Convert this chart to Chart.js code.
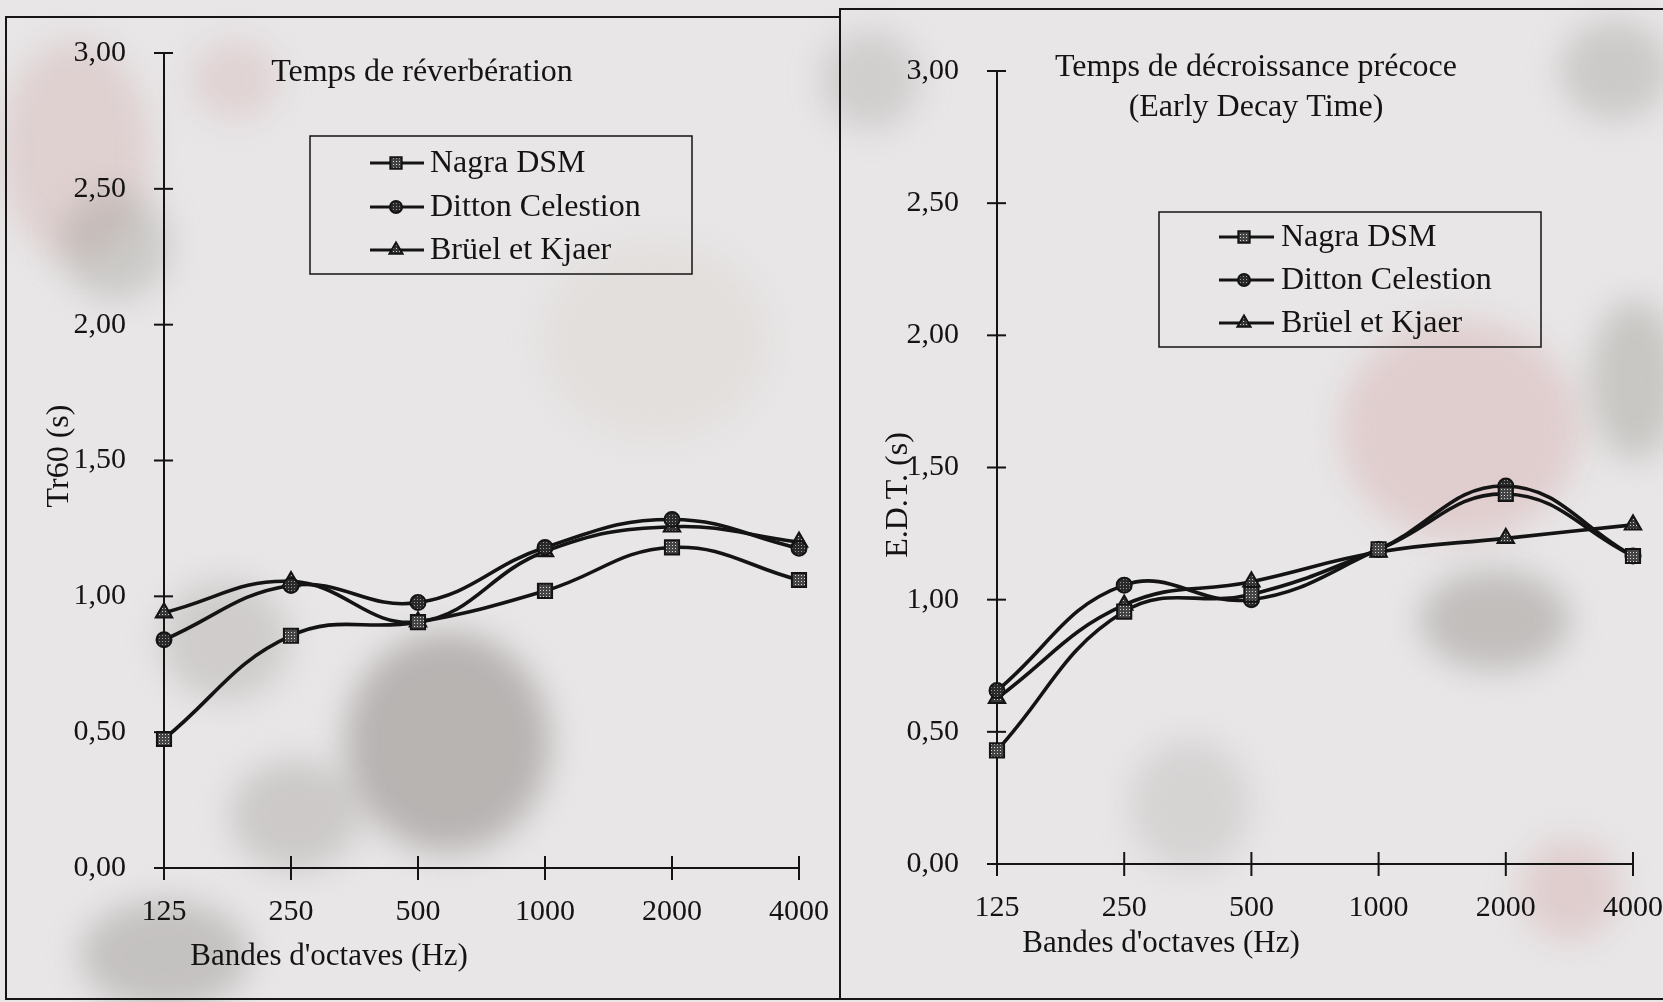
<!DOCTYPE html>
<html>
<head>
<meta charset="utf-8">
<script src="https://cdn.jsdelivr.net/npm/chart.js@4"></script>
<style>
  html, body { margin: 0; padding: 0; }
  body { width: 1663px; height: 1002px; overflow: hidden; position: relative; background: #e8e6e7; }
  .stain { position: absolute; border-radius: 50%; filter: blur(16px); }
  .box { position: absolute; border: 2px solid #161616; box-sizing: border-box; }
  canvas { position: absolute; }
</style>
</head>
<body>
<div class="stain" style="left:345px;top:632px;width:205px;height:220px;background:rgba(135,130,126,.5)"></div>
<div class="stain" style="left:160px;top:580px;width:130px;height:120px;background:rgba(150,145,140,.3)"></div>
<div class="stain" style="left:0px;top:40px;width:150px;height:220px;background:rgba(205,170,165,.35)"></div>
<div class="stain" style="left:190px;top:40px;width:90px;height:80px;background:rgba(205,155,155,.25)"></div>
<div class="stain" style="left:60px;top:190px;width:110px;height:110px;background:rgba(140,140,130,.3)"></div>
<div class="stain" style="left:230px;top:760px;width:130px;height:110px;background:rgba(140,135,130,.3)"></div>
<div class="stain" style="left:80px;top:900px;width:170px;height:110px;background:rgba(130,125,120,.35)"></div>
<div class="stain" style="left:540px;top:240px;width:230px;height:200px;background:rgba(205,195,175,.18)"></div>
<div class="stain" style="left:1340px;top:320px;width:240px;height:220px;background:rgba(205,145,145,.28)"></div>
<div class="stain" style="left:1420px;top:570px;width:150px;height:100px;background:rgba(135,130,125,.4)"></div>
<div class="stain" style="left:1590px;top:300px;width:90px;height:160px;background:rgba(140,140,130,.35)"></div>
<div class="stain" style="left:1520px;top:840px;width:100px;height:100px;background:rgba(205,150,150,.3)"></div>
<div class="stain" style="left:820px;top:30px;width:100px;height:100px;background:rgba(140,140,130,.25)"></div>
<div class="stain" style="left:1560px;top:20px;width:110px;height:100px;background:rgba(140,140,130,.3)"></div>
<div class="stain" style="left:1130px;top:740px;width:120px;height:130px;background:rgba(150,145,140,.22)"></div>

<div class="box" style="left:5px;top:16px;width:836px;height:984px"></div>
<div class="box" style="left:839px;top:8px;width:840px;height:992px"></div>

<canvas id="tr60" width="835" height="983" style="left:5px;top:16px"></canvas>
<canvas id="edt" width="823" height="992" style="left:840px;top:8px"></canvas>

<script>
const bands = ["125", "250", "500", "1000", "2000", "4000"];
const seriesNames = ["Nagra DSM", "Ditton Celestion", "Brüel et Kjaer"];

// Tr60 (s)
const tr60Nagra = [0.475, 0.855, 0.905, 1.02, 1.18, 1.06];
const tr60Ditton = [0.84, 1.04, 0.977, 1.18, 1.283, 1.177];
const tr60Bruel = [0.94, 1.055, 0.906, 1.165, 1.256, 1.20];

// E.D.T. (s)
const edtNagra = [0.43, 0.955, 1.02, 1.19, 1.40, 1.165];
const edtDitton = [0.656, 1.055, 1.00, 1.19, 1.43, 1.165];
const edtBruel = [0.627, 0.98, 1.068, 1.18, 1.232, 1.283];

const yTickValues = [0, 0.5, 1, 1.5, 2, 2.5, 3];

const ink = "#141414";
const serif = "'Liberation Serif', 'DejaVu Serif', serif";

function makePattern(base, dot) {
    const c = document.createElement("canvas");
    c.width = 3;
    c.height = 3;
    const g = c.getContext("2d");
    g.fillStyle = base;
    g.fillRect(0, 0, 3, 3);
    g.fillStyle = dot;
    g.fillRect(1, 1, 1, 1);
    return g.createPattern(c, "repeat");
}

const markerStyles = [
    { pointStyle: "rect", radius: 10, fill: makePattern("#454545", "#d8d8d8") },
    { pointStyle: "circle", radius: 7.5, fill: makePattern("#2a2a2a", "#9a9a9a") },
    { pointStyle: "triangle", radius: 9.5, fill: makePattern("#363636", "#cfcfcf") }
];

// crossing tick marks, custom texts and the boxed legend
const decorPlugin = {
    id: "decor",
    afterDraw(chart) {
        const ctx = chart.ctx;
        const d = chart.options.plugins.decor;
        const xs = chart.scales.x, ys = chart.scales.y;
        ctx.save();
        ctx.strokeStyle = ink;
        ctx.lineWidth = 2;
        ys.ticks.forEach((t, i) => {
            const py = ys.getPixelForTick(i);
            ctx.beginPath();
            ctx.moveTo(xs.left - 10, py);
            ctx.lineTo(xs.left + 9, py);
            ctx.stroke();
        });
        xs.ticks.forEach((t, i) => {
            const px = xs.getPixelForTick(i);
            ctx.beginPath();
            ctx.moveTo(px, ys.bottom - 12);
            ctx.lineTo(px, ys.bottom + 12);
            ctx.stroke();
        });

        ctx.fillStyle = ink;
        ctx.textAlign = "center";
        ctx.textBaseline = "middle";
        ctx.font = "32px " + serif;
        d.title.forEach(([txt, x, y]) => ctx.fillText(txt, x, y));
        ctx.font = "31px " + serif;
        ctx.fillText(d.xTitle[0], d.xTitle[1], d.xTitle[2]);
        ctx.save();
        ctx.translate(d.yTitle[1], d.yTitle[2]);
        ctx.rotate(-Math.PI / 2);
        ctx.font = "32px " + serif;
        ctx.fillText(d.yTitle[0], 0, 0);
        ctx.restore();

        const lg = d.legend;
        ctx.lineWidth = 1.5;
        ctx.strokeRect(lg.box[0], lg.box[1], lg.box[2] - lg.box[0], lg.box[3] - lg.box[1]);
        ctx.textAlign = "left";
        ctx.font = "32px " + serif;
        chart.data.datasets.forEach((ds, i) => {
            const y = lg.rows[i];
            ctx.strokeStyle = ink;
            ctx.lineWidth = 3;
            ctx.beginPath();
            ctx.moveTo(lg.lineX[0], y);
            ctx.lineTo(lg.lineX[1], y);
            ctx.stroke();
            ctx.fillStyle = ds.pointBackgroundColor;
            ctx.lineWidth = 2;
            Chart.helpers.drawPoint(ctx, {
                pointStyle: ds.pointStyle,
                radius: ds.pointRadius * 0.8,
                rotation: 0,
                borderWidth: 2
            }, lg.markX, y);
            ctx.fillStyle = ink;
            ctx.fillText(ds.label, lg.textX, y + 1);
        });
        ctx.restore();
    }
};

function makeDatasets(values) {
    return values.map((vals, i) => ({
        label: seriesNames[i],
        data: vals,
        borderColor: ink,
        borderWidth: 3.6,
        tension: 0.42,
        fill: false,
        clip: false,
        pointStyle: markerStyles[i].pointStyle,
        pointRadius: markerStyles[i].radius,
        pointBackgroundColor: markerStyles[i].fill,
        pointBorderColor: ink,
        pointBorderWidth: 2
    }));
}

function buildChart(id, values, frame, decor) {
    return new Chart(document.getElementById(id).getContext("2d"), {
        type: "line",
        data: { labels: bands, datasets: makeDatasets(values) },
        options: {
            responsive: false,
            animation: false,
            layout: { padding: { top: frame.top, right: frame.right, left: 0, bottom: 0 } },
            plugins: {
                legend: { display: false },
                tooltip: { enabled: false },
                decor: decor
            },
            scales: {
                x: {
                    type: "category",
                    offset: false,
                    grid: { display: false },
                    border: { display: true, color: ink, width: 2 },
                    ticks: {
                        color: ink,
                        font: { family: serif, size: 30 },
                        padding: 18,
                        maxRotation: 0,
                        autoSkip: false
                    },
                    afterFit: s => {
                        s.height = frame.bottom;
                        s.paddingLeft = 0;
                        s.paddingRight = 0;
                    }
                },
                y: {
                    min: 0,
                    max: 3,
                    grid: { display: false },
                    border: { display: true, color: ink, width: 2 },
                    afterBuildTicks: s => { s.ticks = yTickValues.map(v => ({ value: v })); },
                    ticks: {
                        color: ink,
                        font: { family: serif, size: 30 },
                        padding: 30,
                        callback: v => v.toFixed(2).replace(".", ",")
                    },
                    afterFit: s => {
                        s.width = frame.left;
                        s.paddingTop = 0;
                        s.paddingBottom = 0;
                    }
                }
            }
        },
        plugins: [decorPlugin]
    });
}

let tr60Chart = buildChart("tr60", [tr60Nagra, tr60Ditton, tr60Bruel],
    { left: 159, top: 37, right: 41, bottom: 131 },
    {
        title: [["Temps de réverbération", 417, 57]],
        xTitle: ["Bandes d'octaves (Hz)", 324, 941],
        yTitle: ["Tr60 (s)", 55, 440],
        legend: { box: [305, 120, 687, 258], rows: [147, 191, 234], lineX: [365, 419], markX: 391, textX: 425 }
    });

let edtChart = buildChart("edt", [edtNagra, edtDitton, edtBruel],
    { left: 157, top: 63, right: 30, bottom: 136 },
    {
        title: [["Temps de décroissance précoce", 416, 60], ["(Early Decay Time)", 416, 100]],
        xTitle: ["Bandes d'octaves (Hz)", 321, 936],
        yTitle: ["E.D.T. (s)", 59, 487],
        legend: { box: [319, 204, 701, 339], rows: [229, 272, 315], lineX: [379, 434], markX: 404, textX: 441 }
    });
</script>
</body>
</html>
